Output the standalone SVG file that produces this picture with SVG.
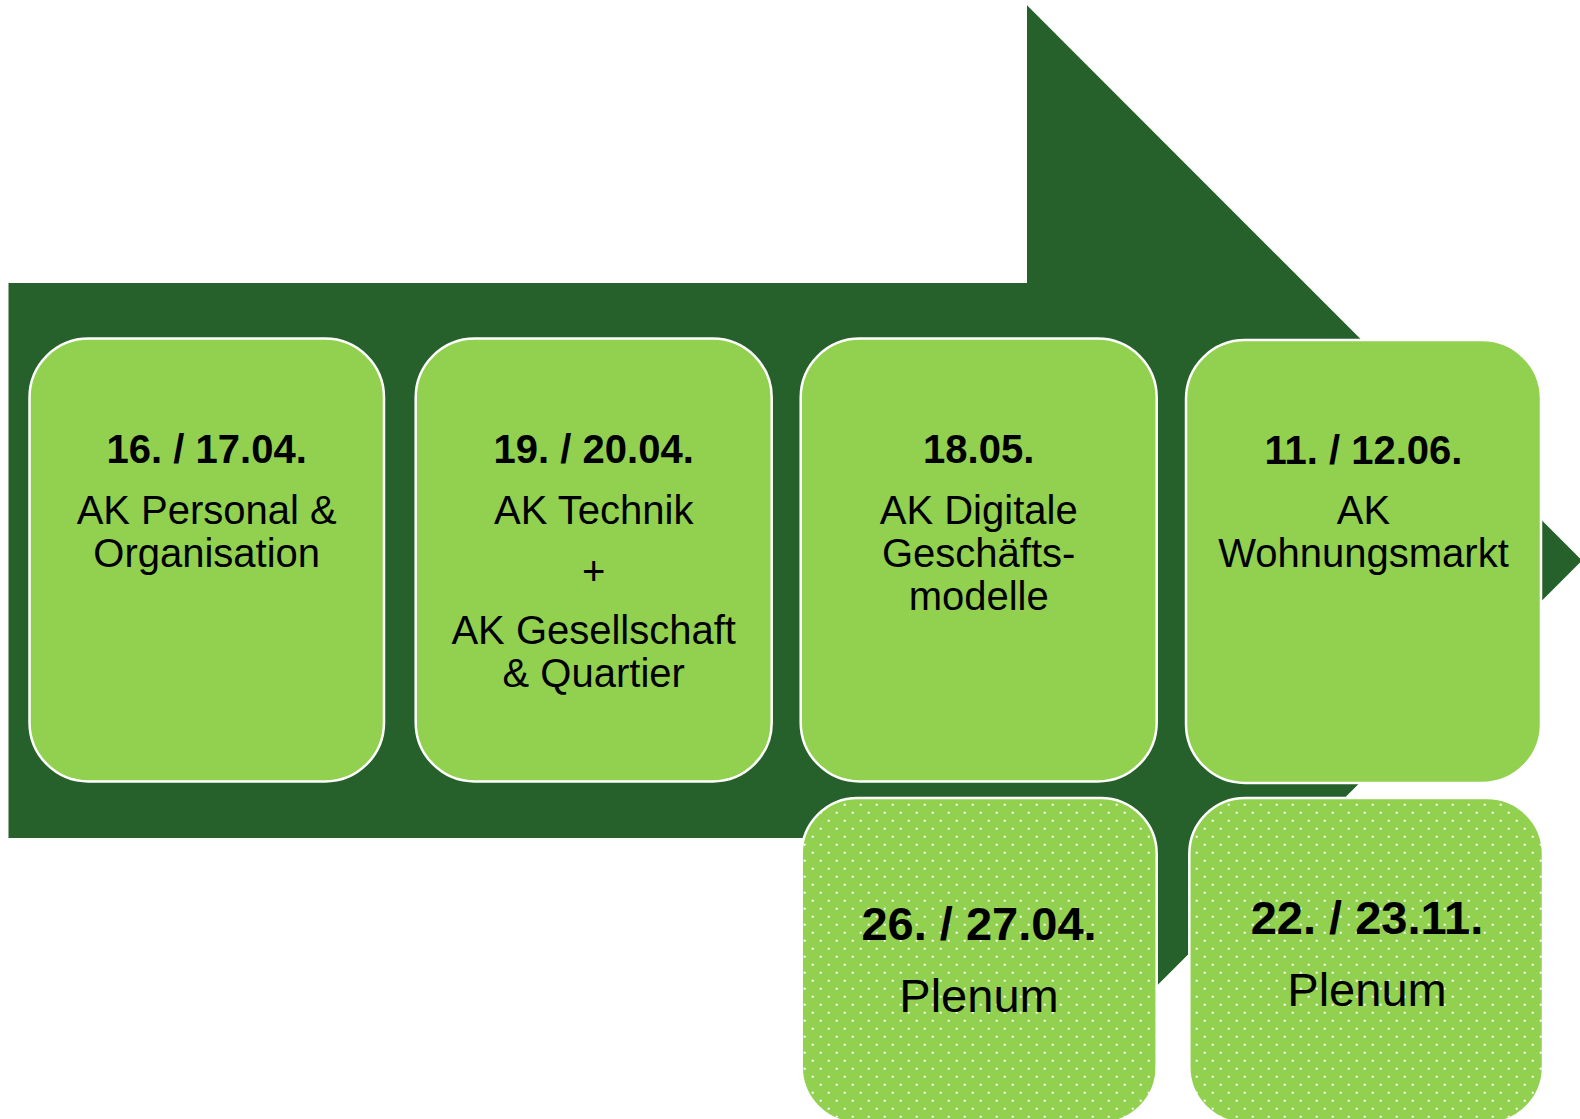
<svg xmlns="http://www.w3.org/2000/svg" width="1580" height="1119" viewBox="0 0 1580 1119">
  <defs>
    <style>
      .box { fill: #92D050; stroke: #FFFFFF; stroke-width: 2.5; }
      .dots { fill: url(#dotgrid); stroke: none; }
      text { font-family: "Liberation Sans", Arial, sans-serif; fill: #000000; text-anchor: middle; }
      .date { font-size: 40px; font-weight: bold; }
      .lbl { font-size: 40px; }
      .pdate { font-size: 47px; font-weight: bold; }
      .plbl { font-size: 47px; }
    </style>
    <pattern id="dotgrid" patternUnits="userSpaceOnUse" x="0" y="0" width="16" height="16">
      <rect x="11.7" y="3.7" width="2" height="2" fill="#FFFFFF"/>
      <rect x="3.7" y="11.7" width="2" height="2" fill="#FFFFFF"/>
    </pattern>
  </defs>

  <rect x="0" y="0" width="1580" height="1119" fill="#FFFFFF"/>

  <g id="arrow">
    <polygon points="8.5,283 1027,283 1027,5.3 1582,560.5 1027,1115.7 1027,838 8.5,838" fill="#26602B"/>
  </g>

  <g id="connectors"></g>

  <g id="node-ak-personal">
    <rect class="box" x="29.5" y="338.5" width="354.5" height="443" rx="59" ry="59"/>
    <text class="date" x="206.7" y="463">16. / 17.04.</text>
    <text class="lbl" x="206.7" y="524">AK Personal &amp;</text>
    <text class="lbl" x="206.7" y="567">Organisation</text>
  </g>

  <g id="node-ak-technik">
    <rect class="box" x="415.7" y="338.5" width="356" height="443" rx="59" ry="59"/>
    <text class="date" x="593.7" y="463">19. / 20.04.</text>
    <text class="lbl" x="593.7" y="524">AK Technik</text>
    <text class="lbl" x="593.7" y="585">+</text>
    <text class="lbl" x="593.7" y="644">AK Gesellschaft</text>
    <text class="lbl" x="593.7" y="687">&amp; Quartier</text>
  </g>

  <g id="node-ak-digitale">
    <rect class="box" x="800.7" y="338.5" width="356" height="443" rx="59" ry="59"/>
    <text class="date" x="978.7" y="463">18.05.</text>
    <text class="lbl" x="978.7" y="524">AK Digitale</text>
    <text class="lbl" x="978.7" y="567">Geschäfts-</text>
    <text class="lbl" x="978.7" y="610">modelle</text>
  </g>

  <g id="node-ak-wohnungsmarkt">
    <rect class="box" x="1186" y="340" width="355" height="443" rx="59" ry="59"/>
    <text class="date" x="1363.5" y="464">11. / 12.06.</text>
    <text class="lbl" x="1363.5" y="524">AK</text>
    <text class="lbl" x="1363.5" y="567">Wohnungsmarkt</text>
  </g>

  <g id="node-plenum-1">
    <rect class="box" x="801.7" y="798" width="355" height="325" rx="56" ry="56"/>
    <rect class="dots" x="801.7" y="798" width="355" height="325" rx="56" ry="56"/>
    <text class="pdate" x="979" y="940">26. / 27.04.</text>
    <text class="plbl" x="979" y="1012">Plenum</text>
  </g>

  <g id="node-plenum-2">
    <rect class="box" x="1189.3" y="798" width="353.7" height="325" rx="56" ry="56"/>
    <rect class="dots" x="1189.3" y="798" width="353.7" height="325" rx="56" ry="56"/>
    <text class="pdate" x="1367" y="934">22. / 23.11.</text>
    <text class="plbl" x="1367" y="1006">Plenum</text>
  </g>
</svg>
